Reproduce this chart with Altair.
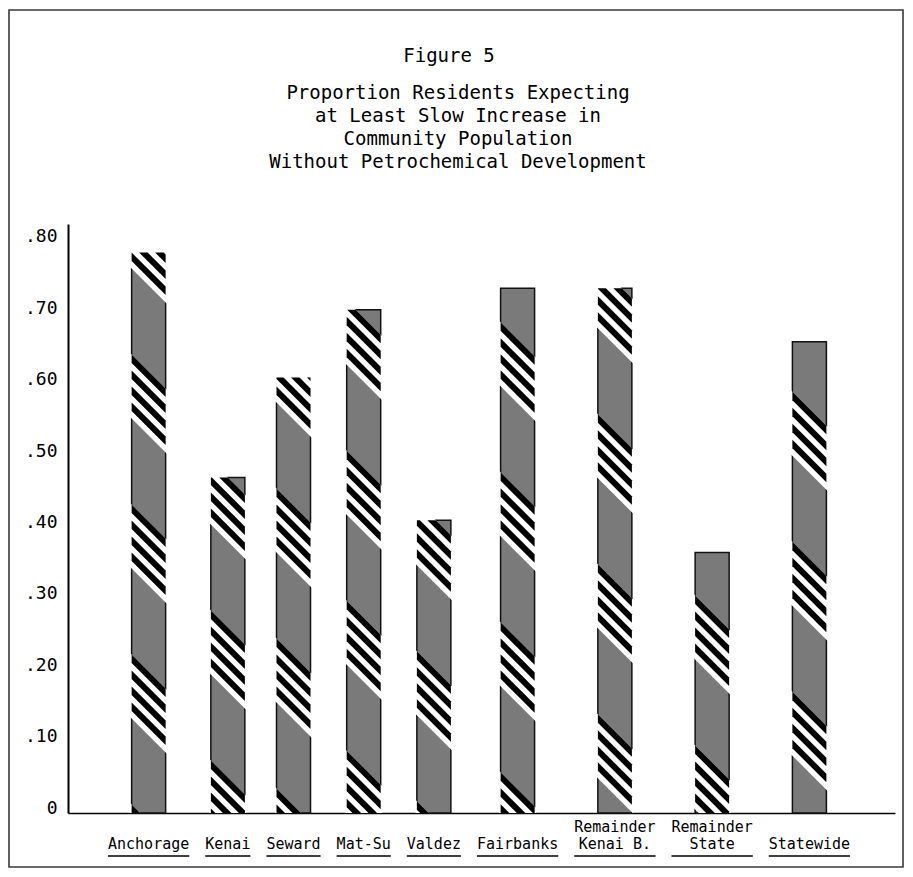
import altair as alt
import numpy as np
import pandas as pd

# ---------------- values ----------------
categories = ["Anchorage", "Kenai", "Seward", "Mat-Su", "Valdez", "Fairbanks",
              "Remainder\nKenai B.", "Remainder\nState", "Statewide"]
proportions = [0.785, 0.47, 0.61, 0.705, 0.41, 0.735, 0.735, 0.365, 0.66]
y_tick_values = [0.0, 0.1, 0.2, 0.3, 0.4, 0.5, 0.6, 0.7, 0.8]
fig_label = "Figure 5"
title_lines = ["Proportion Residents Expecting",
               "at Least Slow Increase in",
               "Community Population",
               "Without Petrochemical Development"]

# ---------------- layout / style (not data) ----------------
MONO = "DejaVu Sans Mono"
PLOT_W, PLOT_H = 827, 589
Y_MAX = 0.825
LABEL_SIZE = 15
CHAR_W = 0.602 * LABEL_SIZE          # monospace cell width in px
X_MAX = PLOT_W / CHAR_W              # x scale measured in character cells
PX_Y = PLOT_H / Y_MAX
LABEL_START = 40 / CHAR_W
LABEL_GAP = 16 / CHAR_W
BAR_W_PX = 34
BAR_HALF = (BAR_W_PX / 2) / CHAR_W

# hatch texture of the original (diagonal stripe bands over stipple)
SLOPE = 1.0
STRIPE_PERIOD = 16
STRIPE_BLACK = 8.5
N_STRIPES = 4
GRAY_LEN = 86
BAND_LEN = N_STRIPES * STRIPE_PERIOD
CYCLE = BAND_LEN + GRAY_LEN
band_phase = [16, 47, 25, 55, 45, 98, 40, 107, 114]   # px below bar top
GRAY = "#7a7a7a"

# label-width based slots (the typewritten original spaces bars by label width)
widths = [max(len(s.strip()) for s in c.split("\n")) for c in categories]
starts = []
pos = LABEL_START
for w in widths:
    starts.append(pos)
    pos += w + LABEL_GAP
centers = [s + w / 2 for s, w in zip(starts, widths)]

line1 = [c.split("\n")[0] if "\n" in c else "" for c in categories]
line2 = [c.split("\n")[-1] for c in categories]

bars_df = pd.DataFrame({
    "category": [c.replace("\n", " ") for c in categories],
    "value": proportions,
    "xl": [c - BAR_HALF for c in centers],
    "xr": [c + BAR_HALF for c in centers],
})
labels_df = pd.DataFrame({
    "xc": centers, "line1": line1, "line2": line2,
    "ul0": starts, "ul1": [s + w for s, w in zip(starts, widths)],
})


def band_polygon(gid, x_left, top_px, u0, u1, xa, xb):
    """Diagonal band u0 <= y + SLOPE*X <= u1 clipped to [xa, xb] x [0, top]."""
    bps = {float(xa), float(xb)}
    for b in (u0, u1, u0 - top_px, u1 - top_px):
        b = b / SLOPE
        if xa < b < xb:
            bps.add(b)
    pts = []
    for X in sorted(bps):
        hi = min(top_px, u1 - SLOPE * X)
        lo = max(0.0, u0 - SLOPE * X)
        if hi >= lo - 1e-6:
            pts.append((X, hi, min(lo, hi)))
    if len(pts) < 2 or max(p[1] - p[2] for p in pts) <= 1e-6:
        return []
    return [dict(gid=gid, x=x_left + X / CHAR_W, y=hi / PX_Y, y2=lo / PX_Y)
            for (X, hi, lo) in pts]


white_rows, black_rows = [], []
for i, (c, v, e) in enumerate(zip(centers, proportions, band_phase)):
    top = v * PX_Y
    xl = c - BAR_HALF
    u_ref = top - e
    umax = top + SLOPE * BAR_W_PX
    kmin = int(np.floor((0 - BAND_LEN - u_ref) / CYCLE))
    kmax = int(np.ceil((umax - u_ref) / CYCLE))
    for k in range(kmin, kmax + 1):
        ub = u_ref + k * CYCLE
        # white band a little wider than the bar hides the bar outline there
        white_rows += band_polygon(f"w{i}_{k}", xl, top + 1.5, ub, ub + BAND_LEN,
                                   -1.5, BAR_W_PX + 1.5)
        for j in range(N_STRIPES):
            hu = ub + BAND_LEN - j * STRIPE_PERIOD
            black_rows += band_polygon(f"b{i}_{k}_{j}", xl, top, hu - STRIPE_BLACK, hu,
                                       0, BAR_W_PX)

white_df = pd.DataFrame(white_rows)
black_df = pd.DataFrame(black_rows)

# ---------------- scales / axes ----------------
XS = alt.Scale(domain=[0, X_MAX], nice=False, zero=False)
YS = alt.Scale(domain=[0, Y_MAX], nice=False)
XA = alt.Axis(labels=False, ticks=False, grid=False, title=None,
              domainColor="black", domainWidth=1.6)
YA = alt.Axis(values=y_tick_values, grid=False, title=None, ticks=False, tickSize=0,
              labelExpr="datum.value == 0 ? '0' : substring(format(datum.value, '.2f'), 1)",
              labelFont=MONO, labelFontSize=18, labelColor="black",
              labelPadding=11, labelBaseline="alphabetic", labelFlush=False,
              domainColor="black", domainWidth=2)


def X(f):
    return alt.X(f, type="quantitative", scale=XS, axis=XA)


def Y(f):
    return alt.Y(f, type="quantitative", scale=YS, axis=YA, stack=None)


bars = alt.Chart(bars_df).mark_bar(color=GRAY, stroke="#111111", strokeWidth=1.5).encode(
    x=X("xl"), x2="xr:Q", y=Y("value"), y2=alt.datum(0),
    tooltip=["category:N", "value:Q"])

white = alt.Chart(white_df).mark_area(color="white").encode(
    x=X("x"), y=Y("y"), y2="y2:Q", detail="gid:N")

black = alt.Chart(black_df).mark_area(color="black").encode(
    x=X("x"), y=Y("y"), y2="y2:Q", detail="gid:N")

lab2 = alt.Chart(labels_df).mark_text(
    font=MONO, fontSize=LABEL_SIZE, color="black", align="center", baseline="alphabetic"
).encode(x=X("xc"), y=alt.value(625), text="line2:N")

lab1 = alt.Chart(labels_df).transform_filter("datum.line1 != ''").mark_text(
    font=MONO, fontSize=LABEL_SIZE, color="black", align="center", baseline="alphabetic"
).encode(x=X("xc"), y=alt.value(608), text="line1:N")

underline = alt.Chart(labels_df).mark_rule(color="black", strokeWidth=1.3).encode(
    x=X("ul0"), x2="ul1:Q", y=alt.value(632))

one = pd.DataFrame({"a": [0]})
frame = alt.Chart(one).mark_rect(
    fillOpacity=0, stroke="#3a3a3a", strokeWidth=1.6
).encode(x=alt.value(-59), x2=alt.value(835), y=alt.value(-214), y2=alt.value(643))

# title block drawn as text (figure number, then four centred lines)
TITLE_SIZE = 19
title_layers = [alt.Chart(one).mark_text(
    font=MONO, fontSize=TITLE_SIZE, color="black", align="center", baseline="alphabetic",
    text=fig_label).encode(x=alt.value(381), y=alt.value(-162))]
for n, line in enumerate(title_lines):
    title_layers.append(alt.Chart(one).mark_text(
        font=MONO, fontSize=TITLE_SIZE, color="black", align="center",
        baseline="alphabetic", text=line
    ).encode(x=alt.value(390), y=alt.value(-125 + 23 * n)))

chart = alt.layer(frame, bars, white, black, underline, lab1, lab2, *title_layers).properties(
    width=PLOT_W, height=PLOT_H,
    padding={"left": 60, "top": 216, "right": 10, "bottom": 56},
    autosize=alt.AutoSizeParams(type="none"),
    background="white",
).configure_view(stroke="transparent", strokeWidth=0)

chart.save("out.html", embed_options={"renderer": "svg", "actions": False})
